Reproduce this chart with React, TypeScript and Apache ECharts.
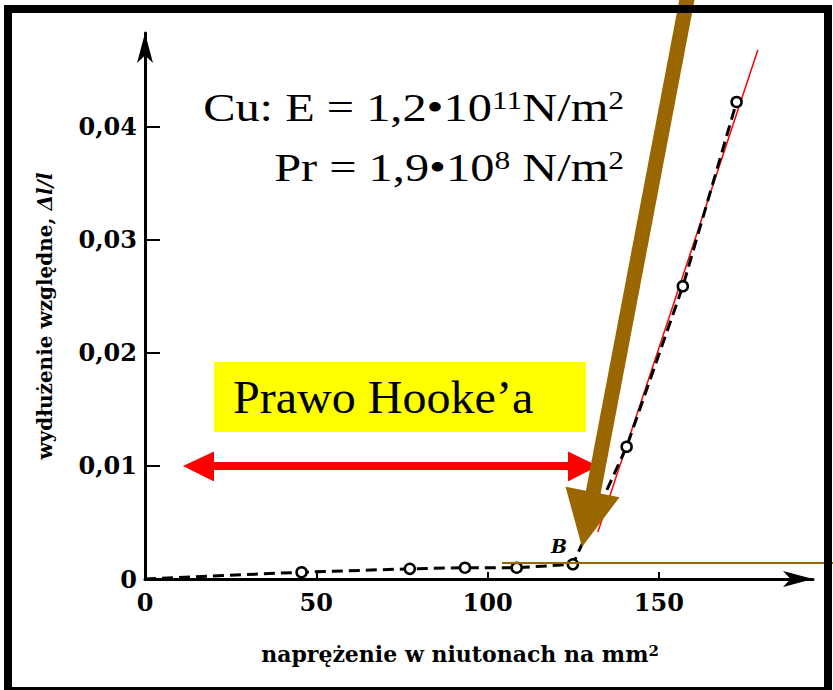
import React, { useEffect, useRef } from "react";
import * as echarts from "echarts";

// measured points (stress in N/mm^2, relative elongation)
const stressValues = [45.7, 77.3, 93.4, 108.5, 124.9, 140.6, 157.0, 172.7];
const strainValues = [0.0006, 0.0009, 0.001, 0.001, 0.0013, 0.0117, 0.0259, 0.0422];
// red fitted line
const fitStress = [132.2, 178.9];
const fitStrain = [0.00416, 0.0468];
// tick values
const xTickValues = [0, 50, 100, 150];
const xTickMarks = [50, 100, 150];
const yTickValues = [0, 0.01, 0.02, 0.03, 0.04];
const yTickMarks = [0.01, 0.02, 0.03, 0.04];

const BROWN = "#996600";
const RED = "#ff0000";

export default function App() {
  const ref = useRef<HTMLDivElement>(null);

  useEffect(() => {
    const chart = echarts.init(ref.current!, null, { renderer: "svg" });

    const curve: any[] = [{ value: [0, 0], symbol: "none" }];
    stressValues.forEach((s, i) => curve.push({ value: [s, strainValues[i]] }));
    const fit = fitStress.map((s, i) => [s, fitStrain[i]]);

    // brown arrow geometry
    const tip = [582, 547];
    const d = [-0.1883, 0.9821];
    const p = [0.9821, 0.1883];
    const headLen = 56;
    const headHalf = 27.5;
    const base = [tip[0] - headLen * d[0], tip[1] - headLen * d[1]];
    const shaftTop = [base[0] - ((base[1] + 10) / d[1]) * d[0], -10];

    const tickFont = {
      fontFamily: "'DejaVu Serif', serif",
      fontWeight: "bold" as const,
      fontSize: 24,
      color: "#000",
    };
    const serif = "'Liberation Serif', 'Times New Roman', serif";

    chart.setOption({
      animation: false,
      backgroundColor: "#fff",
      grid: { left: 145, top: 33, width: 668, height: 546 },
      xAxis: {
        type: "value",
        min: 0,
        max: 195,
        name: "naprężenie w niutonach na mm{sup|2}",
        nameLocation: "middle",
        nameGap: 64,
        nameTextStyle: {
          fontFamily: "'DejaVu Serif', serif",
          fontWeight: "bold",
          fontSize: 22,
          color: "#000",
          padding: [0, 38, 0, 0],
          rich: {
            sup: {
              fontFamily: "'DejaVu Serif', serif",
              fontWeight: "bold",
              fontSize: 15,
              color: "#000",
              verticalAlign: "top",
            },
          },
        },
        axisLine: {
          show: true,
          onZero: false,
          symbol: ["none", "arrow"],
          symbolSize: [12, 30],
          lineStyle: { color: "#000", width: 3 },
        },
        axisTick: {
          show: true,
          inside: true,
          length: 7,
          customValues: xTickMarks,
          lineStyle: { color: "#000", width: 2 },
        },
        axisLabel: { ...tickFont, margin: 11, customValues: xTickValues },
        splitLine: { show: false },
      },
      yAxis: {
        type: "value",
        min: 0,
        max: 0.0483,
        name: "wydłużenie względne, {i|Δl/l}",
        nameLocation: "middle",
        nameGap: 90,
        nameRotate: 90,
        nameTextStyle: {
          fontFamily: "'DejaVu Serif', serif",
          fontWeight: "bold",
          fontSize: 20,
          color: "#000",
          padding: [0, 20, 0, 0],
          rich: {
            i: {
              fontFamily: "'DejaVu Serif', serif",
              fontWeight: "bold",
              fontStyle: "italic",
              fontSize: 20,
              color: "#000",
            },
          },
        },
        axisLine: {
          show: true,
          onZero: false,
          symbol: ["none", "arrow"],
          symbolSize: [12, 30],
          lineStyle: { color: "#000", width: 3 },
        },
        axisTick: {
          show: true,
          inside: true,
          length: 15,
          customValues: yTickMarks,
          lineStyle: { color: "#000", width: 2 },
        },
        axisLabel: {
          ...tickFont,
          margin: 8,
          customValues: yTickValues,
          formatter: (v: number) => (v === 0 ? "0" : v.toFixed(2).replace(".", ",")),
        },
        splitLine: { show: false },
      },
      series: [
        {
          type: "line",
          data: curve,
          symbol: "circle",
          symbolSize: 10,
          itemStyle: { color: "#fff", borderColor: "#000", borderWidth: 2.5 },
          lineStyle: { color: "#000", width: 3, type: [11, 6] },
          z: 3,
        },
        {
          type: "line",
          data: fit,
          symbol: "none",
          lineStyle: { color: RED, width: 1.5 },
          z: 2,
        },
      ],
      graphic: [
        {
          type: "rect",
          shape: { x: 8, y: 9, width: 820, height: 682 },
          style: { fill: "none", stroke: "#000", lineWidth: 8 },
          z: 50,
        },
        {
          type: "rect",
          shape: { x: 214, y: 362, width: 372, height: 70 },
          style: { fill: "#ffff00" },
          z: 5,
        },
        {
          type: "text",
          x: 233,
          y: 397,
          scaleX: 1.045,
          style: {
            text: "Prawo Hooke’a",
            fontFamily: serif,
            fontSize: 46,
            fill: "#000",
            verticalAlign: "middle",
            align: "left",
          },
          z: 6,
        },
        {
          type: "text",
          x: 624,
          y: 107,
          scaleX: 1.21,
          style: {
            text: "Cu: E = 1,2•10{sup|11}N/m{sup|2}",
            fontFamily: serif,
            fontSize: 40,
            fill: "#000",
            align: "right",
            verticalAlign: "middle",
            rich: {
              sup: { fontFamily: serif, fontSize: 26, fill: "#000", verticalAlign: "top" },
            },
          },
          z: 6,
        },
        {
          type: "text",
          x: 624,
          y: 167,
          scaleX: 1.21,
          style: {
            text: "Pr = 1,9•10{sup|8} N/m{sup|2}",
            fontFamily: serif,
            fontSize: 40,
            fill: "#000",
            align: "right",
            verticalAlign: "middle",
            rich: {
              sup: { fontFamily: serif, fontSize: 26, fill: "#000", verticalAlign: "top" },
            },
          },
          z: 6,
        },
        {
          type: "text",
          x: 551,
          y: 546,
          style: {
            text: "B",
            fontFamily: "'DejaVu Serif', serif",
            fontWeight: "bold",
            fontStyle: "italic",
            fontSize: 19,
            fill: "#000",
            verticalAlign: "middle",
          },
          z: 6,
        },
        // red double arrow
        {
          type: "line",
          shape: { x1: 205, y1: 466, x2: 575, y2: 466 },
          style: { stroke: RED, lineWidth: 8 },
          z: 20,
        },
        {
          type: "polygon",
          shape: { points: [[183, 466], [214, 451.5], [214, 481.5]] },
          style: { fill: RED },
          z: 20,
        },
        {
          type: "polygon",
          shape: { points: [[598, 466], [568, 451.5], [568, 481.5]] },
          style: { fill: RED },
          z: 20,
        },
        // brown horizontal line
        {
          type: "line",
          shape: { x1: 502, y1: 563, x2: 833, y2: 563 },
          style: { stroke: BROWN, lineWidth: 2 },
          z: 30,
        },
        // brown arrow
        {
          type: "line",
          shape: {
            x1: shaftTop[0],
            y1: shaftTop[1],
            x2: base[0] - 2 * d[0],
            y2: base[1] - 2 * d[1] + 4,
          },
          style: { stroke: BROWN, lineWidth: 15 },
          z: 30,
        },
        {
          type: "polygon",
          shape: {
            points: [
              [base[0] + headHalf * p[0], base[1] + headHalf * p[1]],
              [tip[0], tip[1]],
              [base[0] - headHalf * p[0], base[1] - headHalf * p[1]],
            ],
          },
          style: { fill: BROWN },
          z: 30,
        },
      ],
    });

    return () => chart.dispose();
  }, []);

  return (
    <div
      ref={ref}
      style={{ position: "fixed", left: 0, top: 0, width: 833, height: 690, background: "#fff" }}
    />
  );
}
